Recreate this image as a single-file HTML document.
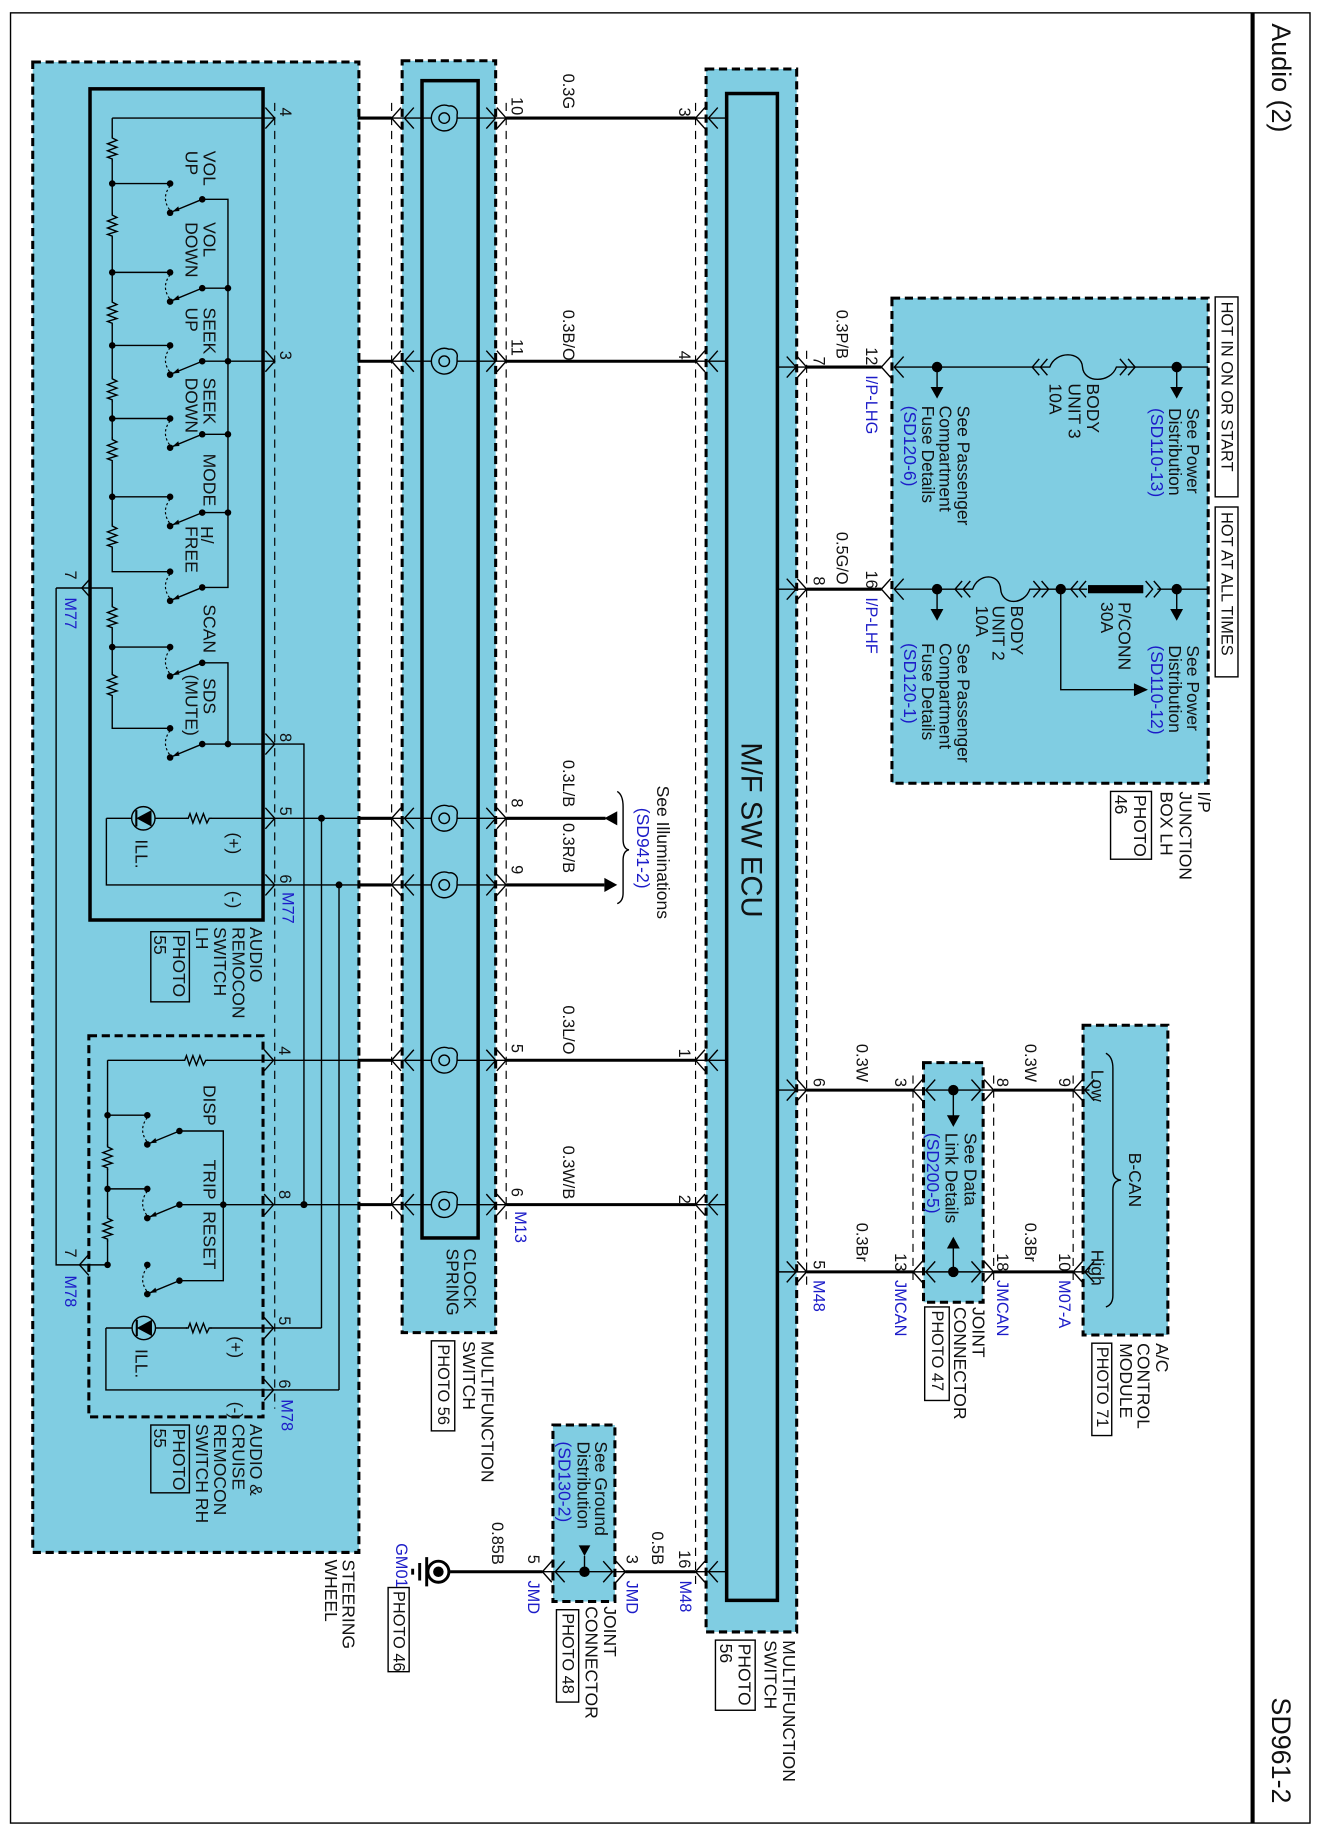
<!DOCTYPE html>
<html><head><meta charset="utf-8"><style>
html,body{margin:0;padding:0;background:#fff;}
svg{display:block;}
text{font-family:"Liberation Sans",Arial,sans-serif;font-size:15px;dominant-baseline:central;fill:#111;}
.s{font-size:14px;}
.h{font-size:14px;}
.b{fill:#1c1cc8;}
.t{font-size:23px;}
.e{font-size:25px;}
.w{stroke:#000;stroke-width:1.2;fill:none;}
.k{stroke:#000;stroke-width:2.6;fill:none;}
.d{stroke:#000;stroke-width:2.6;stroke-dasharray:7,4;fill:#80cde2;}
.td{stroke:#000;stroke-width:1;stroke-dasharray:7,5;fill:none;}
.sol{stroke:#000;stroke-width:3;fill:#80cde2;}
.bx{stroke:#000;stroke-width:1.2;fill:none;}
</style></head><body>
<svg width="1319" height="1833" viewBox="0 0 1128.3 1568" xmlns="http://www.w3.org/2000/svg">
<defs>
<path id="cr" d="M-8,-9 L0,0 L-8,9" fill="none" stroke="#000" stroke-width="1.2"/>
<path id="cl" d="M8,-9 L0,0 L8,9" fill="none" stroke="#000" stroke-width="1.2"/>
<path id="ccl" d="M6,-7 L0,0 L6,7 M13,-7 L7,0 L13,7" fill="none" stroke="#000" stroke-width="1.2"/>
<path id="ccr" d="M-6,-7 L0,0 L-6,7 M-13,-7 L-7,0 L-13,7" fill="none" stroke="#000" stroke-width="1.2"/>
<g id="rv"><rect x="-5" y="-10" width="10" height="20" fill="#80cde2"/><path d="M0,-11 L0,-9 L4,-7 L-4,-4 L4,-1 L-4,2 L4,5 L-4,7.5 L0,9 L0,11" fill="none" stroke="#000" stroke-width="1.2"/></g>
<g id="sw"><circle cx="0" cy="0" r="2.8"/><circle cx="0" cy="25" r="2.8"/><circle cx="27.5" cy="13.5" r="2.8"/><path d="M27.5,13.5 L2,24" fill="none" stroke="#000" stroke-width="1.2"/><path d="M2,24 L7,19.5 L8,23.5 Z"/><path d="M0,2 Q-8,12.5 0,23" fill="none" stroke="#000" stroke-width="1" stroke-dasharray="2,2"/></g>
<g id="sp"><circle cx="0" cy="0" r="4.5" fill="none" stroke="#000" stroke-width="1.2"/><path d="M11,0 A11,11 0 1 1 4,-10.3 A6,6 0 0 1 11,-3 L11,0" fill="none" stroke="#000" stroke-width="1.2"/></g>
<g id="led"><circle cx="0" cy="0" r="10" fill="#80cde2" stroke="#000" stroke-width="1.2"/><path d="M-6,0 L7,-7 L7,7 Z"/><path d="M-6,-7 L-6,7" stroke="#000" stroke-width="1.8"/></g>
</defs>
<rect x="0" y="0" width="1128.3" height="1568" fill="#fff"/>
<rect x="9" y="11" width="1111.6" height="1548.5" fill="none" stroke="#000" stroke-width="1.2"/>
<line x1="1071.5" y1="11" x2="1071.5" y2="1559.5" stroke="#000" stroke-width="3.5"/>
<text class="t" transform="translate(1096,20) rotate(90)">Audio (2)</text>
<text class="t" transform="translate(1096,1452) rotate(90)">SD961-2</text>

<rect class="d" x="28" y="53" width="279" height="1275"/>
<rect class="sol" x="77" y="76" width="148" height="711"/>
<rect class="d" x="76" y="886" width="149" height="326"/>
<rect class="d" x="344" y="52" width="80" height="1088"/>
<rect class="sol" x="361" y="69" width="48" height="990"/>
<rect class="d" x="604" y="59" width="77.5" height="1337"/>
<rect class="sol" x="621.6" y="80" width="43.4" height="1289"/>
<rect class="d" x="763" y="255" width="270.5" height="415"/>
<rect class="d" x="790" y="909" width="51" height="205"/>
<rect class="d" x="926.5" y="877" width="72.5" height="265"/>
<rect class="d" x="473" y="1219" width="53" height="151"/>

<g class="td">
<line x1="235" y1="88" x2="235" y2="1205"/>
<line x1="335" y1="88" x2="335" y2="1045"/>
<line x1="433" y1="88" x2="433" y2="1045"/>
<line x1="595" y1="88" x2="595" y2="1355"/>
<line x1="690" y1="300" x2="690" y2="1100"/>
<line x1="781" y1="920" x2="781" y2="1100"/>
<line x1="850" y1="920" x2="850" y2="1100"/>
<line x1="918" y1="920" x2="918" y2="1100"/>
</g>

<g class="w">
<path d="M96,101 L235,101 M96,101 L96,489 L145.5,489"/>
<path d="M96,157 L145.5,157 M96,233 L145.5,233 M96,295.5 L145.5,295.5 M96,358 L145.5,358 M96,425 L145.5,425"/>
<path d="M173,170.5 L195,170.5 L195,502.5 L173,502.5 M173,246.5 L195,246.5 M173,309 L235,309 M173,371.5 L195,371.5 M173,438.5 L195,438.5"/>
<path d="M48,503 L96,503 L96,623 L145.5,623 M96,553.5 L145.5,553.5"/>
<path d="M173,567 L195,567 L195,636.5 M173,636.5 L260,636.5 L260,1030"/>
<path d="M91,700 L306,700 M91,700 L91,757 L306,757"/>
<path d="M275,700 L275,1136 M290,757 L290,1189"/>
<path d="M48,503 L48,1082 L92,1082"/>
<path d="M92,907 L306,907 M92,907 L92,1082 M92,954 L126,954 M92,1017 L126,1017"/>
<path d="M153,967.5 L191,967.5 L191,1095.5 L153,1095.5 M153,1030.5 L306,1030.5"/>
<path d="M90.6,1136 L275,1136 M90.6,1136 L90.6,1189 L290,1189"/>
</g>
<g>
<use href="#rv" x="96" y="127"/><use href="#rv" x="96" y="193"/><use href="#rv" x="96" y="267.5"/><use href="#rv" x="96" y="333"/><use href="#rv" x="96" y="385"/><use href="#rv" x="96" y="459"/>
<use href="#rv" x="96" y="528"/><use href="#rv" x="96" y="586"/>
<use href="#rv" x="92" y="990"/><use href="#rv" x="92" y="1051"/>
<use href="#rv" transform="translate(170,700) rotate(90)"/>
<use href="#rv" transform="translate(170,1136) rotate(90)"/>
<use href="#rv" transform="translate(167,907) rotate(90)"/>
<use href="#sw" x="145.5" y="157"/><use href="#sw" x="145.5" y="233"/><use href="#sw" x="145.5" y="295.5"/><use href="#sw" x="145.5" y="358"/><use href="#sw" x="145.5" y="425"/><use href="#sw" x="145.5" y="489"/>
<use href="#sw" x="145.5" y="553.5"/><use href="#sw" x="145.5" y="623"/>
<use href="#sw" x="126" y="954"/><use href="#sw" x="126" y="1017"/><use href="#sw" x="126" y="1082"/>
<use href="#led" x="122.6" y="700"/><use href="#led" x="123" y="1136"/>
</g>
<g>
<circle cx="96" cy="157" r="2.8"/><circle cx="96" cy="233" r="2.8"/><circle cx="96" cy="295.5" r="2.8"/><circle cx="96" cy="358" r="2.8"/><circle cx="96" cy="425" r="2.8"/><circle cx="96" cy="553.5" r="2.8"/>
<circle cx="195" cy="246.5" r="2.8"/><circle cx="195" cy="309" r="2.8"/><circle cx="195" cy="371.5" r="2.8"/><circle cx="195" cy="438.5" r="2.8"/><circle cx="195" cy="636.5" r="2.8"/>
<circle cx="275" cy="700" r="3"/><circle cx="290" cy="757" r="3"/><circle cx="260" cy="1030.5" r="3"/>
<circle cx="92" cy="954" r="2.8"/><circle cx="92" cy="1017" r="2.8"/><circle cx="92" cy="1082" r="2.8"/><circle cx="191" cy="1030.5" r="2.8"/>
</g>
<use href="#cr" x="235" y="101"/><use href="#cr" x="235" y="309"/><use href="#cr" x="235" y="636.5"/><use href="#cr" x="235" y="700"/><use href="#cr" x="235" y="757"/>
<use href="#cr" x="234" y="907"/><use href="#cr" x="234" y="1030.5"/><use href="#cr" x="234" y="1136"/><use href="#cr" x="234" y="1189"/>
<use href="#cl" x="70" y="503"/><use href="#cl" x="68" y="1082"/>

<g class="k">
<path d="M306,101 L335,101 M306,309 L335,309 M306,700 L335,700 M306,757 L335,757 M306,907 L335,907 M306,1030.5 L335,1030.5"/>
<path d="M433,101 L595,101 M433,309 L595,309 M433,907 L595,907 M433,1030.5 L595,1030.5"/>
<path d="M433,700 L518,700 M433,757 L517,757"/>
<path d="M690,314 L754,314 M690,504 L754,504"/>
<path d="M690,932.5 L781,932.5 M850,932.5 L918,932.5 M690,1088 L781,1088 M850,1088 L918,1088"/>
<path d="M385,1344.5 L464,1344.5 M535,1344.5 L595,1344.5"/>
</g>
<g class="w">
<path d="M335,101 L369,101 M391,101 L433,101 M335,309 L369,309 M391,309 L433,309 M335,700 L369,700 M391,700 L433,700 M335,757 L369,757 M391,757 L433,757 M335,907 L369,907 M391,907 L433,907 M335,1030.5 L369,1030.5 M391,1030.5 L433,1030.5"/>
<path d="M595,101 L621.6,101 M595,309 L621.6,309 M595,907 L621.6,907 M595,1030.5 L621.6,1030.5 M595,1344.5 L621.6,1344.5"/>
<path d="M665,314 L690,314 M665,504 L690,504 M665,932.5 L690,932.5 M665,1088 L690,1088"/>
<path d="M781,932.5 L850,932.5 M781,1088 L850,1088 M918,932.5 L932,932.5 M918,1088 L932,1088"/>
<path d="M464,1344.5 L535,1344.5"/>
</g>
<g>
<use href="#sp" x="380" y="101"/><use href="#sp" x="380" y="309"/><use href="#sp" x="380" y="700"/><use href="#sp" x="380" y="757"/><use href="#sp" x="380" y="907"/><use href="#sp" x="380" y="1030.5"/>
</g>
<g>
<use href="#cl" x="335" y="101"/><use href="#cl" x="346" y="101"/><use href="#cr" x="424" y="101"/><use href="#cr" x="433" y="101"/>
<use href="#cl" x="335" y="309"/><use href="#cl" x="346" y="309"/><use href="#cr" x="424" y="309"/><use href="#cr" x="433" y="309"/>
<use href="#cl" x="335" y="700"/><use href="#cl" x="346" y="700"/><use href="#cr" x="424" y="700"/><use href="#cr" x="433" y="700"/>
<use href="#cl" x="335" y="757"/><use href="#cl" x="346" y="757"/><use href="#cr" x="424" y="757"/><use href="#cr" x="433" y="757"/>
<use href="#cl" x="335" y="907"/><use href="#cl" x="346" y="907"/><use href="#cr" x="424" y="907"/><use href="#cr" x="433" y="907"/>
<use href="#cl" x="335" y="1030.5"/><use href="#cl" x="346" y="1030.5"/><use href="#cr" x="424" y="1030.5"/><use href="#cr" x="433" y="1030.5"/>
<use href="#cl" x="595" y="101"/><use href="#cl" x="606" y="101"/>
<use href="#cl" x="595" y="309"/><use href="#cl" x="606" y="309"/>
<use href="#cl" x="595" y="907"/><use href="#cl" x="606" y="907"/>
<use href="#cl" x="595" y="1030.5"/><use href="#cl" x="606" y="1030.5"/>
<use href="#cl" x="595" y="1344.5"/><use href="#cl" x="606" y="1344.5"/>
<use href="#cr" x="681" y="314"/><use href="#cr" x="690" y="314"/>
<use href="#cr" x="681" y="504"/><use href="#cr" x="690" y="504"/>
<use href="#cr" x="681" y="932.5"/><use href="#cr" x="690" y="932.5"/>
<use href="#cr" x="681" y="1088"/><use href="#cr" x="690" y="1088"/>
<use href="#cl" x="754" y="314"/><use href="#cl" x="765" y="314"/>
<use href="#cl" x="754" y="504"/><use href="#cl" x="765" y="504"/>
<use href="#cl" x="781" y="932.5"/><use href="#cl" x="792" y="932.5"/><use href="#cr" x="839" y="932.5"/><use href="#cr" x="850" y="932.5"/>
<use href="#cl" x="781" y="1088"/><use href="#cl" x="792" y="1088"/><use href="#cr" x="839" y="1088"/><use href="#cr" x="850" y="1088"/>
<use href="#cl" x="918" y="932.5"/><use href="#cl" x="928" y="932.5"/>
<use href="#cl" x="918" y="1088"/><use href="#cl" x="928" y="1088"/>
<use href="#cl" x="464" y="1344.5"/><use href="#cl" x="475" y="1344.5"/><use href="#cr" x="524" y="1344.5"/><use href="#cr" x="535" y="1344.5"/>
</g>

<path d="M517,700 L528,694 L528,706 Z"/>
<path d="M528,757 L517,751 L517,763 Z"/>
<path class="w" d="M528,677 Q533,680 533,690 L533,718 Q533,726 538,727 Q533,728 533,736 L533,764 Q533,771 528,773"/>

<circle cx="815.5" cy="932.5" r="4.5"/><circle cx="815.5" cy="1088" r="4.5"/>
<path class="w" d="M815.5,932.5 L815.5,955 M815.5,1088 L815.5,1067"/>
<path d="M815.5,964 L810,954 L821,954 Z"/><path d="M815.5,1058 L810,1068 L821,1068 Z"/>

<path class="w" d="M946,901 Q952,904 952,914 L952,1001 Q952,1009 959,1009.5 Q952,1010 952,1018 L952,1108 Q952,1116 946,1118"/>

<circle cx="500" cy="1344.5" r="4.5"/>
<path class="w" d="M500,1344.5 L500,1331"/>
<path d="M500,1331 L495,1322 L505,1322 Z"/>
<circle cx="375" cy="1344.5" r="9" fill="#fff" stroke="#000" stroke-width="2.5"/><circle cx="375" cy="1344.5" r="4.5"/>
<path d="M365,1332 L365,1357 M359,1337 L359,1352 M353,1342 L353,1347" stroke="#000" stroke-width="2.5"/>
<path class="w" d="M365,1344.5 L366,1344.5"/>

<g class="w">
<path d="M765,314 L898,314 C903,300 925,300 926,314 C927,328 950,328 955,314 L1033.5,314"/>
<path d="M765,504 L832,504 C837,490 855,490 856,504 C857,518 876,518 881,504 L930,504 M990,504 L1033.5,504"/>
<path d="M907.4,504 L907.4,590 L970,590"/>
<path d="M801.6,314 L801.6,331 M1006.6,314 L1006.6,331 M801.6,504 L801.6,521 M1006.6,504 L1006.6,521"/>
</g>
<use href="#ccl" x="883" y="314"/><use href="#ccr" x="971" y="314"/>
<use href="#ccl" x="817" y="504"/><use href="#ccr" x="897" y="504"/>
<use href="#ccl" x="916" y="504"/><use href="#ccr" x="993" y="504"/>
<rect x="930.7" y="500.5" width="47.3" height="7"/>
<circle cx="801.6" cy="314" r="4.5"/><circle cx="1006.6" cy="314" r="4.5"/>
<circle cx="801.6" cy="504" r="4.5"/><circle cx="907.4" cy="504" r="4.5"/><circle cx="1006.6" cy="504" r="4.5"/>
<path d="M801.6,341 L796,331 L807,331 Z M1006.6,341 L1001,331 L1012,331 Z M801.6,531 L796,521 L807,521 Z M1006.6,531 L1001,521 L1012,521 Z"/>
<path d="M982,590 L970,584.5 L970,595.5 Z"/>

<rect class="bx" x="1039.5" y="254" width="19.5" height="171" fill="#fff"/>
<rect class="bx" x="1039.5" y="433.7" width="19.5" height="145.3" fill="#fff"/>
<text class="h" transform="translate(1049,258) rotate(90)">HOT IN ON OR START</text>
<text class="h" transform="translate(1049,438) rotate(90)">HOT AT ALL TIMES</text>

<g class="bx">
<rect x="129" y="797" width="33" height="60"/>
<rect x="129" y="1219" width="33" height="58"/>
<rect x="369" y="1147" width="20" height="77"/>
<rect x="612" y="1403" width="34" height="60"/>
<rect x="476" y="1377" width="19" height="79"/>
<rect x="332" y="1358" width="18" height="72"/>
<rect x="791" y="1118" width="21" height="80"/>
<rect x="934" y="1149" width="17" height="79"/>
<rect x="950" y="677" width="35" height="58"/>
</g>

<text transform="translate(179,129) rotate(90)">VOL</text><text transform="translate(164,129) rotate(90)">UP</text>
<text transform="translate(179,190) rotate(90)">VOL</text><text transform="translate(164,190) rotate(90)">DOWN</text>
<text transform="translate(179,263) rotate(90)">SEEK</text><text transform="translate(164,263) rotate(90)">UP</text>
<text transform="translate(179,323) rotate(90)">SEEK</text><text transform="translate(164,323) rotate(90)">DOWN</text>
<text transform="translate(179,388) rotate(90)">MODE</text>
<text transform="translate(177,450) rotate(90)">H/</text><text transform="translate(164,450) rotate(90)">FREE</text>
<text transform="translate(179,517) rotate(90)">SCAN</text>
<text transform="translate(179,580) rotate(90)">SDS</text><text transform="translate(164,577) rotate(90)">(MUTE)</text>
<text transform="translate(200,712) rotate(90)">(+)</text><text transform="translate(200,762) rotate(90)">(-)</text>
<text transform="translate(121,718) rotate(90)">ILL.</text>
<text transform="translate(179,928) rotate(90)">DISP</text>
<text transform="translate(179,992) rotate(90)">TRIP</text>
<text transform="translate(179,1036) rotate(90)">RESET</text>
<text transform="translate(202,1143) rotate(90)">(+)</text><text transform="translate(202,1199) rotate(90)">(-)</text>
<text transform="translate(121,1154) rotate(90)">ILL.</text>
<text class="s" transform="translate(244,92) rotate(90)">4</text>
<text class="s" transform="translate(244,300) rotate(90)">3</text>
<text class="s" transform="translate(244,627) rotate(90)">8</text>
<text class="s" transform="translate(244,690) rotate(90)">5</text>
<text class="s" transform="translate(244,748) rotate(90)">6</text>
<text class="s b" transform="translate(246,763) rotate(90)">M77</text>
<text class="s" transform="translate(60,488) rotate(90)">7</text>
<text class="s b" transform="translate(60,511) rotate(90)">M77</text>
<text class="s" transform="translate(243,895) rotate(90)">4</text>
<text class="s" transform="translate(243,1018) rotate(90)">8</text>
<text class="s" transform="translate(243,1126) rotate(90)">5</text>
<text class="s" transform="translate(243,1180) rotate(90)">6</text>
<text class="s b" transform="translate(245,1197) rotate(90)">M78</text>
<text class="s" transform="translate(60,1068) rotate(90)">7</text>
<text class="s b" transform="translate(60,1091) rotate(90)">M78</text>
<text transform="translate(219,793) rotate(90)">AUDIO</text>
<text transform="translate(204,793) rotate(90)">REMOCON</text>
<text transform="translate(188,793) rotate(90)">SWITCH</text>
<text transform="translate(173,793) rotate(90)">LH</text>
<text transform="translate(153,800) rotate(90)">PHOTO</text><text transform="translate(137,800) rotate(90)">55</text>
<text transform="translate(219,1218) rotate(90)">AUDIO &amp;</text>
<text transform="translate(204,1218) rotate(90)">CRUISE</text>
<text transform="translate(188,1218) rotate(90)">REMOCON</text>
<text transform="translate(173,1218) rotate(90)">SWITCH RH</text>
<text transform="translate(153,1222) rotate(90)">PHOTO</text><text transform="translate(137,1222) rotate(90)">55</text>
<text transform="translate(298,1334) rotate(90)">STEERING</text>
<text transform="translate(283,1334) rotate(90)">WHEEL</text>

<text transform="translate(402,1068) rotate(90)">CLOCK</text>
<text transform="translate(387,1068) rotate(90)">SPRING</text>
<text transform="translate(417,1147) rotate(90)">MULTIFUNCTION</text>
<text transform="translate(401,1147) rotate(90)">SWITCH</text>
<text class="s" transform="translate(379,1150) rotate(90)">PHOTO 56</text>
<text class="s" transform="translate(442,83) rotate(90)">10</text>
<text class="s" transform="translate(442,290) rotate(90)">11</text>
<text class="s" transform="translate(442,683) rotate(90)">8</text>
<text class="s" transform="translate(442,740) rotate(90)">9</text>
<text class="s" transform="translate(442,893) rotate(90)">5</text>
<text class="s" transform="translate(442,1016) rotate(90)">6</text>
<text class="s b" transform="translate(445,1036) rotate(90)">M13</text>
<text class="s" transform="translate(486,63) rotate(90)">0.3G</text>
<text class="s" transform="translate(486,265) rotate(90)">0.3B/O</text>
<text class="s" transform="translate(486,650) rotate(90)">0.3L/B</text>
<text class="s" transform="translate(486,704) rotate(90)">0.3R/B</text>
<text class="s" transform="translate(486,860) rotate(90)">0.3L/O</text>
<text class="s" transform="translate(486,980) rotate(90)">0.3W/B</text>
<text transform="translate(567,672) rotate(90)">See Illuminations</text>
<text class="b" transform="translate(550,691) rotate(90)">(SD941-2)</text>

<text class="e" transform="translate(642,635) rotate(90)">M/F SW ECU</text>
<text class="s" transform="translate(585,92) rotate(90)">3</text>
<text class="s" transform="translate(585,300) rotate(90)">4</text>
<text class="s" transform="translate(585,897) rotate(90)">1</text>
<text class="s" transform="translate(585,1022) rotate(90)">2</text>
<text class="s" transform="translate(585,1326) rotate(90)">16</text>
<text class="s b" transform="translate(586,1352) rotate(90)">M48</text>
<text transform="translate(675,1403) rotate(90)">MULTIFUNCTION</text>
<text transform="translate(659,1403) rotate(90)">SWITCH</text>
<text transform="translate(637,1406) rotate(90)">PHOTO</text><text transform="translate(621,1406) rotate(90)">56</text>
<text class="s" transform="translate(700,305) rotate(90)">7</text>
<text class="s" transform="translate(700,493) rotate(90)">8</text>
<text class="s" transform="translate(700,922) rotate(90)">6</text>
<text class="s" transform="translate(700,1078) rotate(90)">5</text>
<text class="s b" transform="translate(700,1095) rotate(90)">M48</text>
<text class="s" transform="translate(720,265) rotate(90)">0.3P/B</text>
<text class="s" transform="translate(720,455) rotate(90)">0.5G/O</text>
<text class="s" transform="translate(737,893) rotate(90)">0.3W</text>
<text class="s" transform="translate(737,1046) rotate(90)">0.3Br</text>

<text class="s" transform="translate(745,297) rotate(90)">12</text>
<text class="s b" transform="translate(745,321) rotate(90)">I/P-LHG</text>
<text class="s" transform="translate(745,488) rotate(90)">16</text>
<text class="s b" transform="translate(745,511) rotate(90)">I/P-LHF</text>
<text transform="translate(1020.7,349) rotate(90)">See Power</text>
<text transform="translate(1005,349) rotate(90)">Distribution</text>
<text class="b" transform="translate(989.6,349) rotate(90)">(SD110-13)</text>
<text transform="translate(1020.7,552) rotate(90)">See Power</text>
<text transform="translate(1005,552) rotate(90)">Distribution</text>
<text class="b" transform="translate(989.6,552) rotate(90)">(SD110-12)</text>
<text transform="translate(824,347) rotate(90)">See Passenger</text>
<text transform="translate(808.6,347) rotate(90)">Compartment</text>
<text transform="translate(794,347) rotate(90)">Fuse Details</text>
<text class="b" transform="translate(778.6,347) rotate(90)">(SD120-6)</text>
<text transform="translate(824,550) rotate(90)">See Passenger</text>
<text transform="translate(808.6,550) rotate(90)">Compartment</text>
<text transform="translate(794,550) rotate(90)">Fuse Details</text>
<text class="b" transform="translate(778.6,550) rotate(90)">(SD120-1)</text>
<text transform="translate(935,328) rotate(90)">BODY</text>
<text transform="translate(919,328) rotate(90)">UNIT 3</text>
<text transform="translate(903,328) rotate(90)">10A</text>
<text transform="translate(870,518) rotate(90)">BODY</text>
<text transform="translate(854,518) rotate(90)">UNIT 2</text>
<text transform="translate(840,518) rotate(90)">10A</text>
<text transform="translate(962,515) rotate(90)">P/CONN</text>
<text transform="translate(947,515) rotate(90)">30A</text>
<text transform="translate(1030,677) rotate(90)">I/P</text>
<text transform="translate(1014,677) rotate(90)">JUNCTION</text>
<text transform="translate(998,677) rotate(90)">BOX LH</text>
<text transform="translate(975,680) rotate(90)">PHOTO</text><text transform="translate(959,680) rotate(90)">46</text>

<text class="s" transform="translate(770,922) rotate(90)">3</text>
<text class="s" transform="translate(770,1072) rotate(90)">13</text>
<text class="s b" transform="translate(770,1095) rotate(90)">JMCAN</text>
<text class="s" transform="translate(857,922) rotate(90)">8</text>
<text class="s" transform="translate(857,1072) rotate(90)">18</text>
<text class="s b" transform="translate(857,1095) rotate(90)">JMCAN</text>
<text class="s" transform="translate(881,893) rotate(90)">0.3W</text>
<text class="s" transform="translate(881,1046) rotate(90)">0.3Br</text>
<text class="s" transform="translate(910,922) rotate(90)">9</text>
<text class="s" transform="translate(910,1072) rotate(90)">10</text>
<text class="s b" transform="translate(910,1095) rotate(90)">M07-A</text>
<text transform="translate(830,969) rotate(90)">See Data</text>
<text transform="translate(814,969) rotate(90)">Link Details</text>
<text class="b" transform="translate(798,969) rotate(90)">(SD200-5)</text>
<text transform="translate(837,1118) rotate(90)">JOINT</text>
<text transform="translate(821,1118) rotate(90)">CONNECTOR</text>
<text class="s" transform="translate(801.5,1121) rotate(90)">PHOTO 47</text>
<text transform="translate(939,915) rotate(90)">Low</text>
<text transform="translate(939,1069) rotate(90)">High</text>
<text transform="translate(971,986) rotate(90)">B-CAN</text>
<text transform="translate(994,1149) rotate(90)">A/C</text>
<text transform="translate(978,1149) rotate(90)">CONTROL</text>
<text transform="translate(963,1149) rotate(90)">MODULE</text>
<text class="s" transform="translate(942.5,1152) rotate(90)">PHOTO 71</text>

<text transform="translate(514,1233) rotate(90)">See Ground</text>
<text transform="translate(499,1233) rotate(90)">Distribution</text>
<text class="b" transform="translate(483,1233) rotate(90)">(SD130-2)</text>
<text class="s" transform="translate(425,1302) rotate(90)">0.85B</text>
<text class="s" transform="translate(562,1310) rotate(90)">0.5B</text>
<text class="s" transform="translate(456,1330) rotate(90)">5</text>
<text class="s b" transform="translate(456,1352) rotate(90)">JMD</text>
<text class="s" transform="translate(540,1330) rotate(90)">3</text>
<text class="s b" transform="translate(540,1352) rotate(90)">JMD</text>
<text transform="translate(522,1374) rotate(90)">JOINT</text>
<text transform="translate(506,1374) rotate(90)">CONNECTOR</text>
<text class="s" transform="translate(485.5,1380) rotate(90)">PHOTO 48</text>
<text class="s b" transform="translate(343,1320) rotate(90)">GM01</text>
<text class="s" transform="translate(341,1361) rotate(90)">PHOTO 46</text>
</svg>
</body></html>
